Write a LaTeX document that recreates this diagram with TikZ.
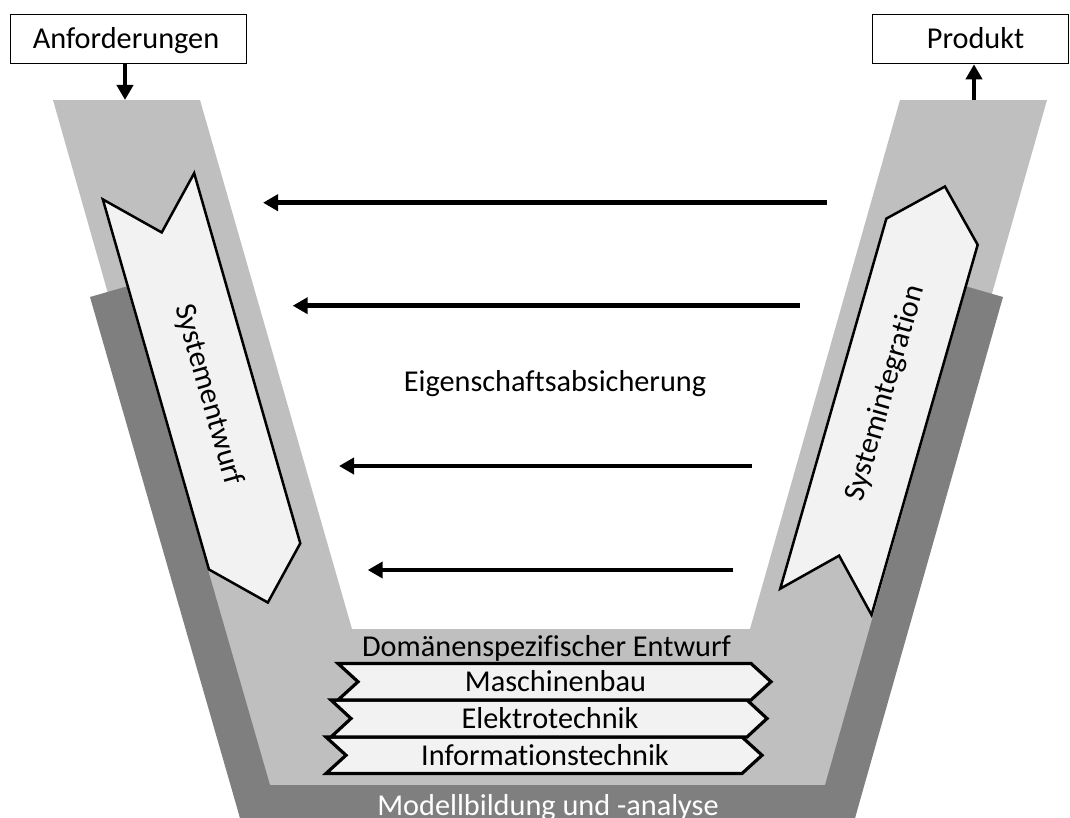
\documentclass[tikz,border=0pt]{standalone}
\usepackage{fontspec}
\setmainfont{Carlito}[Ligatures=NoCommon]
\usetikzlibrary{arrows.meta}
\definecolor{armlight}{HTML}{BFBFBF}
\definecolor{armdark}{HTML}{7F7F7F}
\definecolor{stagefill}{HTML}{F2F2F2}
% chevron bar with a notch on the left and a point on the right
\newcommand\domainbar[5]{%
  \draw[barstage] (#1,#3) -- (#2,#3) -- (#2+20,{(#3+#4)/2}) -- (#2,#4)
    -- (#1,#4) -- (#1+20,{(#3+#4)/2}) -- cycle;
  \node[lbl, anchor=base] (#5) at ({(#1+#2)/2+11},{(#3+#4)/2+10}) {\csname bartext#5\endcsname};}
\newcommand\bartextmech{Maschinenbau}
\newcommand\bartextelec{Elektrotechnik}
\newcommand\bartextinfo{Informationstechnik}
\begin{document}
\begin{tikzpicture}[x=1bp,y=-1bp,
  lbl/.style={font=\fontsize{30.4}{36}\selectfont, inner sep=0pt},
  iobox/.style={draw, line width=1.3bp, fill=white, minimum height=49bp,
    inner sep=0pt, anchor=north west},
  stage/.style={draw, line width=2.5bp, fill=stagefill, line join=miter},
  barstage/.style={stage, line width=3.2bp},
  flow/.style={line width=4.5bp, -{Triangle[length=15bp,width=16bp]}},
]
\useasboundingbox (0,0) rectangle (1070,818);

% light grey V
\fill[armlight] (53,100) -- (200,100) -- (352,629) -- (750,629) -- (900,100)
  -- (1047,100) -- (991,297) -- (855,818) -- (240,818) -- (109,297) -- cycle;
% dark grey frame underneath
\fill[armdark] (90,297) -- (126.4,286.5) -- (270,785) -- (825,785)
  -- (966.6,286.5) -- (1003,297) -- (855,818) -- (240,818) -- cycle;

% input and output boxes
\node[iobox, minimum width=235.7bp] (req) at (10,14) {};
\node[lbl, anchor=base] (reqtext) at (126,48.3) {Anforderungen};
\node[iobox, minimum width=196.3bp] (prod) at (871.7,14) {};
\node[lbl, anchor=base] (prodtext) at (975.5,48.3) {Produkt};
\coordinate (reqIn) at (125,100);
\coordinate (prodOut) at (974,100);
\draw[flow] (req.south -| reqIn) -- (reqIn);
\draw[flow] (prodOut) -- (prod.south -| prodOut);

% left arm: system design
\begin{scope}[shift={(148.5,186.3)}, rotate=16]
  \draw[stage] (-47.5,0) -- (0,48) -- (47.5,0) -- (47.5,385) -- (0,433)
    -- (-47.5,385) -- cycle;
  \coordinate (designC) at (0,217);
\end{scope}
\node[lbl, rotate=-74] (design) at (designC) {Systementwurf};

% right arm: system integration
\begin{scope}[shift={(932,231.7)}, rotate=-16]
  \draw[stage] (-47.5,0) -- (0,-47) -- (47.5,0) -- (47.5,385) -- (0,337)
    -- (-47.5,385) -- cycle;
  \coordinate (integC) at (0,168);
\end{scope}
\node[lbl, rotate=74] (integ) at (integC) {Systemintegration};

% property assurance arrows
\coordinate (a1s) at (827,202.7);   \coordinate (a1e) at (263,202.7);
\coordinate (a2s) at (799.5,305.7); \coordinate (a2e) at (292.7,305.7);
\coordinate (a3s) at (751.7,466);   \coordinate (a3e) at (339,466);
\coordinate (a4s) at (733.3,570);   \coordinate (a4e) at (367.7,570);
\foreach \k in {1,2,3,4} \draw[flow] (a\k s) -- (a\k e);
\node[lbl, anchor=base] (assure) at (555,391.7) {Eigenschaftsabsicherung};

% domain specific design
\node[lbl, anchor=base] (domain) at (546.5,656.7) {Domänenspezifischer Entwurf};
\domainbar{326}{742}{737}{773.5}{info}
\domainbar{331}{747}{700}{737}{elec}
\domainbar{338}{751}{663.5}{700}{mech}

\node[lbl, anchor=base, text=white] (model) at (548,815.5) {Modellbildung und -analyse};
\end{tikzpicture}
\end{document}
